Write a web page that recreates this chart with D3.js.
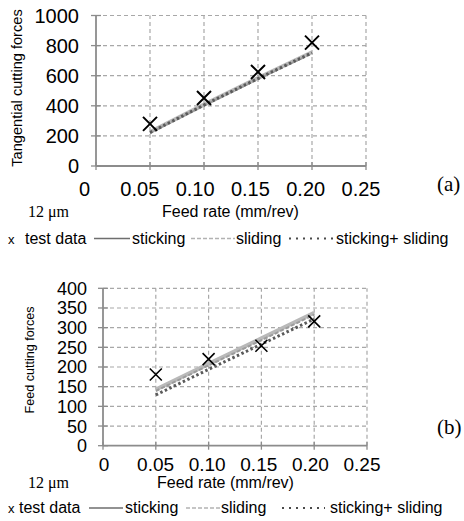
<!DOCTYPE html>
<html>
<head>
<meta charset="utf-8">
<script src="https://cdn.jsdelivr.net/npm/d3@7"></script>
<style>
    body { margin: 0; background: #fff; }
    svg text { font-family: "Liberation Sans", Arial, sans-serif; fill: #000; }
    svg text.serif { font-family: "Liberation Serif", "Times New Roman", serif; }
</style>
</head>
<body>
<div id="chart"></div>
<script>
// data
const feedRate = [0.05, 0.10, 0.15, 0.20];
const xTicks = [0, 0.05, 0.10, 0.15, 0.20, 0.25];
const xTickLabels = ["0", "0.05", "0.10", "0.15", "0.20", "0.25"];

// (a) tangential cutting forces
const tangTicks = [0, 200, 400, 600, 800, 1000];
const tangTest = [280, 452, 625, 820];
const tangSticking = [226, 408, 585, 756];
const tangSliding = [220, 402, 578, 748];
const tangStickSlide = [222, 405, 581, 752];

// (b) feed cutting forces
const feedTicks = [0, 50, 100, 150, 200, 250, 300, 350, 400];
const feedTest = [181, 220, 254, 316];
const feedSticking = [143, 208, 273, 338];
const feedSliding = [139, 204, 268, 333];
const feedStickSlide = [129, 194, 258, 322];

const legendNames = ["test data", "sticking", "sliding", "sticking+ sliding"];

const svg = d3.select("#chart").append("svg")
    .attr("width", 464).attr("height", 521);

const gridColor = "#a8a8a8";
const axisColor = "#8c8c8c";

function drawPanel(cfg) {
    const g = svg.append("g");
    const x = d3.scaleLinear().domain([0, 0.25]).range(cfg.xRange);
    const xLab = d3.scaleLinear().domain([0, 0.25]).range(cfg.xLabRange);
    const y = d3.scaleLinear().domain([0, cfg.yMax]).range(cfg.yRange);

    // dashed grid (incl. top and right border)
    g.selectAll("line.hgrid")
        .data(cfg.yTicks.filter(d => d > 0)).enter()
        .append("line").attr("class", "hgrid")
        .attr("x1", x(0)).attr("x2", x(0.25))
        .attr("y1", d => y(d)).attr("y2", d => y(d))
        .attr("stroke", gridColor).attr("stroke-width", 1.2)
        .attr("stroke-dasharray", "4,3");
    g.selectAll("line.vgrid")
        .data(xTicks.filter(d => d > 0)).enter()
        .append("line").attr("class", "vgrid")
        .attr("x1", d => x(d)).attr("x2", d => x(d))
        .attr("y1", y(0)).attr("y2", y(cfg.yMax))
        .attr("stroke", gridColor).attr("stroke-width", 1.2)
        .attr("stroke-dasharray", "4,3");

    // axes with crossing ticks
    g.append("line")
        .attr("x1", x(0)).attr("x2", x(0))
        .attr("y1", y(0)).attr("y2", y(cfg.yMax))
        .attr("stroke", axisColor).attr("stroke-width", 1.8);
    g.append("line")
        .attr("x1", x(0)).attr("x2", x(0.25))
        .attr("y1", y(0)).attr("y2", y(0))
        .attr("stroke", axisColor).attr("stroke-width", 1.8);
    g.selectAll("line.ytick")
        .data(cfg.yTicks).enter()
        .append("line").attr("class", "ytick")
        .attr("x1", x(0) - 5).attr("x2", x(0) + 5)
        .attr("y1", d => y(d)).attr("y2", d => y(d))
        .attr("stroke", axisColor).attr("stroke-width", 1.3);
    g.selectAll("line.xtick")
        .data(xTicks).enter()
        .append("line").attr("class", "xtick")
        .attr("x1", d => x(d)).attr("x2", d => x(d))
        .attr("y1", y(0) - 4).attr("y2", y(0) + 4)
        .attr("stroke", axisColor).attr("stroke-width", 1.3);

    // tick labels
    g.selectAll("text.ylab")
        .data(cfg.yTicks).enter()
        .append("text").attr("class", "ylab")
        .attr("x", cfg.yLabRight).attr("y", d => y(d))
        .attr("dy", "0.36em")
        .attr("text-anchor", "end")
        .style("font-size", cfg.yTickFont + "px")
        .text(d => d);
    g.selectAll("text.xlab")
        .data(xTicks).enter()
        .append("text").attr("class", "xlab")
        .attr("x", d => xLab(d)).attr("y", cfg.xLabBase)
        .attr("text-anchor", "middle")
        .style("font-size", cfg.xTickFont + "px")
        .text((d, i) => xTickLabels[i]);

    // axis titles
    g.append("text")
        .attr("transform", "translate(" + cfg.yTitleX + "," + cfg.yTitleY + ") rotate(-90)")
        .attr("text-anchor", "middle")
        .attr("dy", "0.35em")
        .style("font-size", cfg.yTitleFont + "px")
        .text(cfg.yTitle);
    g.append("text")
        .attr("x", cfg.xTitleX).attr("y", cfg.xTitleBase)
        .attr("text-anchor", "middle")
        .style("font-size", "16px")
        .text("Feed rate (mm/rev)");
    g.append("text").attr("class", "serif")
        .attr("x", 28).attr("y", cfg.xTitleBase)
        .style("font-size", "16px")
        .text("12 \u03bcm");
    g.append("text").attr("class", "serif")
        .attr("x", 437).attr("y", cfg.tagBase)
        .style("font-size", "21px")
        .text(cfg.tag);

    // model lines
    const line = d3.line().x((d, i) => x(feedRate[i])).y(d => y(d));
    g.append("path").attr("d", line(cfg.sticking))
        .attr("fill", "none").attr("stroke", "#b9b9b9").attr("stroke-width", 4);
    g.append("path").attr("d", line(cfg.sliding))
        .attr("fill", "none").attr("stroke", "#9c9c9c").attr("stroke-width", 2)
        .attr("stroke-dasharray", "4,2");
    g.append("path").attr("d", line(cfg.stickSlide))
        .attr("fill", "none").attr("stroke", "#5a5a5a").attr("stroke-width", 3)
        .attr("stroke-dasharray", "2.5,2.5");

    // test data crosses
    const s = cfg.markSize;
    g.selectAll("path.mark")
        .data(cfg.test).enter()
        .append("path").attr("class", "mark")
        .attr("transform", (d, i) => "translate(" + x(feedRate[i]) + "," + y(d) + ")")
        .attr("d", "M" + -s + "," + -s + "L" + s + "," + s + "M" + -s + "," + s + "L" + s + "," + -s)
        .attr("stroke", "#000").attr("stroke-width", cfg.markWidth).attr("fill", "none");

    // legend
    const L = cfg.legend;
    const lg = g.append("g").style("font-size", "16px");
    lg.append("text").attr("x", L.mark).attr("y", cfg.legendBase)
        .style("font-size", "13px").text("x");
    lg.append("text").attr("x", L.text[0]).attr("y", cfg.legendBase).text(legendNames[0]);
    const ly = cfg.legendBase - 5;
    lg.append("line").attr("x1", L.lines[0][0]).attr("x2", L.lines[0][1])
        .attr("y1", ly).attr("y2", ly)
        .attr("stroke", "#6e6e6e").attr("stroke-width", 1.6);
    lg.append("line").attr("x1", L.lines[1][0]).attr("x2", L.lines[1][1])
        .attr("y1", ly).attr("y2", ly)
        .attr("stroke", "#b2b2b2").attr("stroke-width", 1.5)
        .attr("stroke-dasharray", "4,2");
    lg.append("line").attr("x1", L.lines[2][0]).attr("x2", L.lines[2][1])
        .attr("y1", ly).attr("y2", ly)
        .attr("stroke", "#4a4a4a").attr("stroke-width", 2)
        .attr("stroke-dasharray", "2,5");
    for (let i = 1; i < 4; i++) {
        lg.append("text").attr("x", L.text[i]).attr("y", cfg.legendBase).text(legendNames[i]);
    }
}

drawPanel({
    xRange: [96, 366], xLabRange: [84.5, 361],
    yMax: 1000, yRange: [166, 15.5], yTicks: tangTicks,
    yLabRight: 79, yTickFont: 20, xTickFont: 20, xLabBase: 196,
    yTitle: "Tangential cutting forces", yTitleX: 17, yTitleY: 88, yTitleFont: 14.6,
    xTitleX: 230.5, xTitleBase: 217, tag: "(a)", tagBase: 191,
    sticking: tangSticking, sliding: tangSliding, stickSlide: tangStickSlide,
    test: tangTest, markSize: 7, markWidth: 2,
    legendBase: 243.5,
    legend: { mark: 8, text: [25, 132, 236, 336], lines: [[94, 130], [191, 235], [289, 333]] }
});

drawPanel({
    xRange: [103, 367], xLabRange: [104, 362],
    yMax: 400, yRange: [445.7, 288.3], yTicks: feedTicks,
    yLabRight: 87, yTickFont: 18, xTickFont: 19, xLabBase: 470.5,
    yTitle: "Feed cutting forces", yTitleX: 30, yTitleY: 360, yTitleFont: 12.6,
    xTitleX: 225.5, xTitleBase: 488, tag: "(b)", tagBase: 434,
    sticking: feedSticking, sliding: feedSliding, stickSlide: feedStickSlide,
    test: feedTest, markSize: 6, markWidth: 1.6,
    legendBase: 513,
    legend: { mark: 8, text: [19, 125, 221, 330], lines: [[89, 123], [186, 220], [282, 325]] }
});
</script>
</body>
</html>
